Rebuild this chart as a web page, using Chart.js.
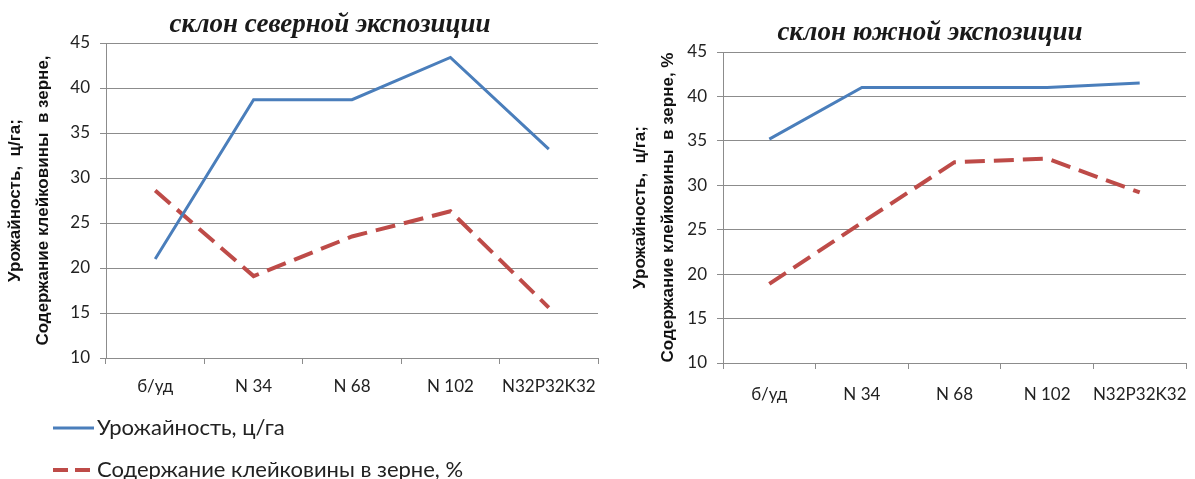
<!DOCTYPE html>
<html><head><meta charset="utf-8">
<script src="https://cdn.jsdelivr.net/npm/chart.js@4"></script>
<style>
html,body{margin:0;padding:0;background:#fff;overflow:hidden;width:1195px;height:479px;}
.wrap{position:absolute;top:0;height:479px;}
</style></head>
<body>
<div class="wrap" id="w1" style="left:0;width:620px;"><canvas id="c1"></canvas></div>
<div class="wrap" id="w2" style="left:620px;width:620px;"><canvas id="c2"></canvas></div>
<script>
const categories = ['б/уд', 'N 34', 'N 68', 'N 102', 'N32P32K32'];
const northYield  = [21.0, 38.7, 38.7, 43.4, 33.2];
const northGluten = [28.6, 19.1, 23.5, 26.3, 15.6];
const southYield  = [35.2, 41.0, 41.0, 41.0, 41.5];
const southGluten = [18.9, 25.8, 32.6, 33.0, 29.2];
const yMin = 10, yMax = 45, yStep = 5;
const seriesNames = ['Урожайность, ц/га', 'Содержание клейковины в зерне, %'];
const northTitle = 'склон северной экспозиции';
const southTitle = 'склон южной экспозиции';
const northYTitle = ['Урожайность,  ц/га;', 'Содержание клейковины  в зерне,'];
const southYTitle = ['Урожайность,  ц/га;', 'Содержание клейковины  в зерне, %'];

const BLUE = '#4a7ebb', RED = '#be4b48', GRID = '#8c8c8c';

const decorPlugin = {
  id: 'decor',
  afterDraw(chart, args, opts) {
    const ctx = chart.ctx;
    ctx.save();
    ctx.fillStyle = '#1a1a1a';
    ctx.font = 'italic bold 27px "Liberation Serif"';
    ctx.textAlign = 'center';
    ctx.textBaseline = 'middle';
    ctx.fillText(opts.title, opts.titleX, opts.titleY);
    if (opts.legend) {
      const L = opts.legend;
      ctx.textAlign = 'left';
      chart.data.datasets.forEach((ds, i) => {
        const y = L.y + i * L.gap;
        ctx.beginPath();
        ctx.strokeStyle = ds.borderColor;
        ctx.lineWidth = ds.borderWidth;
        ctx.setLineDash(i === 1 ? [15, 7] : []);
        ctx.moveTo(L.x, y);
        ctx.lineTo(L.x + L.len, y);
        ctx.stroke();
        ctx.setLineDash([]);
        ctx.fillStyle = '#222';
        ctx.font = L.font;
        ctx.fillText(ds.label, L.x + L.len + 3, y);
      });
    }
    ctx.restore();
  }
};

function makeChart(id, yields, gluten, title, yTitle, cfg) {
  return new Chart(document.getElementById(id), {
    type: 'line',
    data: {
      labels: categories,
      datasets: [
        {label: seriesNames[0], data: yields, borderColor: BLUE, borderWidth: 3, pointRadius: 0, tension: 0, fill: false},
        {label: seriesNames[1], data: gluten, borderColor: RED, borderWidth: 4, borderDash: [20, 9], pointRadius: 0, tension: 0, fill: false}
      ]
    },
    options: {
      responsive: true, maintainAspectRatio: false, animation: false,
      layout: {padding: {left: 0, right: cfg.padRight, top: cfg.padTop, bottom: cfg.padBottom}},
      plugins: {
        legend: {display: false},
        tooltip: {enabled: false},
        title: {display: false},
        decor: {title: title, titleX: cfg.titleX, titleY: cfg.titleY, legend: cfg.legend}
      },
      scales: {
        x: {
          offset: true,
          grid: {display: true, drawOnChartArea: false, drawTicks: true, tickLength: 6, color: GRID, offset: true},
          border: {display: true, color: GRID, width: 1},
          ticks: {color: '#222', padding: cfg.xPad, font: {family: 'Lato', size: 17}, maxRotation: 0, autoSkip: false},
          afterFit(s) { s.height = 40; }
        },
        y: {
          min: yMin, max: yMax,
          grid: {color: GRID, lineWidth: 1, tickLength: 6, drawTicks: true},
          border: {display: true, color: GRID, width: 1},
          ticks: {stepSize: yStep, color: '#222', padding: 10, font: {family: 'Lato', size: 17}},
          title: {display: true, text: yTitle, color: '#111',
            font: {family: 'Liberation Sans', size: 17, weight: 'bold', lineHeight: 1.65},
            padding: {top: cfg.yTitleTop, bottom: 0}},
          afterFit(s) { s.width = cfg.yWidth; }
        }
      }
    },
    plugins: [decorPlugin]
  });
}

makeChart('c1', northYield, northGluten, northTitle, northYTitle, {
  padRight: 22, padTop: 43, padBottom: 81, titleX: 330, titleY: 25, xPad: 12,
  yTitleTop: 1, yWidth: 106,
  legend: {x: 53, y: 428, gap: 42, len: 41, font: '22px Lato'}
});
makeChart('c2', southYield, southGluten, southTitle, southYTitle, {
  padRight: 54, padTop: 52, padBottom: 76, titleX: 310, titleY: 33, xPad: 15,
  yTitleTop: 6, yWidth: 103,
  legend: null
});
</script>
</body></html>
